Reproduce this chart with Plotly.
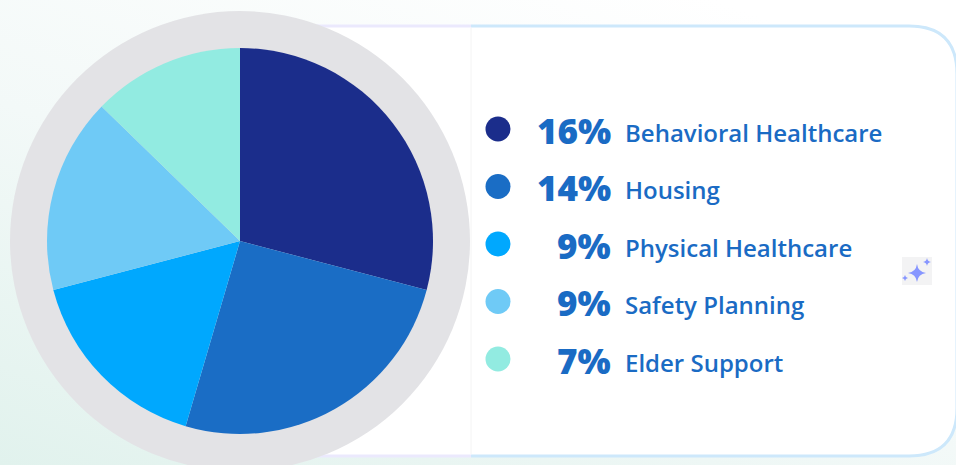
import base64
import plotly.graph_objects as go

# ---- data ----
categories = ["Behavioral Healthcare", "Housing", "Physical Healthcare", "Safety Planning", "Elder Support"]
values = [16, 14, 9, 9, 7]
colors = ["#1b2d8b", "#1a6dc5", "#00a8fe", "#6fcaf6", "#92ebe1"]

W, H = 956, 465
TEXT_BLUE = "#1a6bc4"

# ---- background gradient (decorative) ----
svg = f'''<svg xmlns="http://www.w3.org/2000/svg" width="{W}" height="{H}" viewBox="0 0 {W} {H}" preserveAspectRatio="none">
<defs><linearGradient id="g" x1="0" y1="1" x2="0.75" y2="0">
<stop offset="0" stop-color="#e1f2ed"/><stop offset="0.5" stop-color="#f3f9f8"/><stop offset="1" stop-color="#ffffff"/>
</linearGradient></defs><rect width="{W}" height="{H}" fill="url(#g)"/></svg>'''
bg_src = "data:image/svg+xml;base64," + base64.b64encode(svg.encode()).decode()

fig = go.Figure()

# pie
cx, cy, r = 240, 241, 193
fig.add_trace(go.Pie(
    labels=categories, values=values, sort=False, direction="clockwise", rotation=0,
    marker=dict(colors=colors, line=dict(width=0)), textinfo="none", hoverinfo="skip",
    showlegend=False,
    domain=dict(x=[(cx - r) / W, (cx + r) / W], y=[(H - cy - r) / H, (H - cy + r) / H]),
))

# legend dots
ys = [129 + i * 57.5 for i in range(len(categories))]
fig.add_trace(go.Scatter(
    x=[498] * len(categories), y=ys, mode="markers",
    marker=dict(size=25, color=colors, line=dict(width=0)),
    hoverinfo="skip", showlegend=False,
))

annotations = []
for cat, v, y in zip(categories, values, ys):
    annotations.append(dict(x=613, y=y + 1, xref="x", yref="y", text=f"{v}%", showarrow=False,
                            xanchor="right", yanchor="middle",
                            font=dict(family="Open Sans", size=35, color=TEXT_BLUE, weight=800)))
    annotations.append(dict(x=623, y=y + 3, xref="x", yref="y", text=cat, showarrow=False,
                            xanchor="left", yanchor="middle",
                            font=dict(family="Open Sans", size=24, color=TEXT_BLUE, weight=600)))

R = 48
card_fill = (f"M 471,26 L {957-R},26 Q 957,26 957,{26+R} L 957,{456-R} "
             f"Q 957,456 {957-R},456 L 471,456 Z")
card_border = (f"M 471,26 L {957-R},26 Q 957,26 957,{26+R} L 957,{456-R} "
               f"Q 957,456 {957-R},456 L 471,456")
shapes = [
    dict(type="rect", x0=240, x1=471, y0=26, y1=456, xref="x", yref="y", fillcolor="white",
         line=dict(width=0), layer="below"),
    dict(type="path", path=card_fill, xref="x", yref="y", fillcolor="white",
         line=dict(width=0), layer="below"),
    dict(type="path", path=card_border, xref="x", yref="y", fillcolor="rgba(0,0,0,0)",
         line=dict(color="#cde8fb", width=3), layer="below"),
    dict(type="line", x0=240, x1=471, y0=26, y1=26, xref="x", yref="y",
         line=dict(color="#ebe9fd", width=3), layer="below"),
    dict(type="line", x0=240, x1=471, y0=456, y1=456, xref="x", yref="y",
         line=dict(color="#ebe9fd", width=3), layer="below"),
    dict(type="line", x0=471, x1=471, y0=28, y1=454, xref="x", yref="y",
         line=dict(color="#f4f4f4", width=1), layer="below"),
    # gray ring behind pie
    dict(type="circle", x0=cx - 230, x1=cx + 230, y0=cy - 230, y1=cy + 230, xref="x", yref="y",
         fillcolor="#e3e3e6", line=dict(width=0), layer="below"),
    # sparkle icon
    dict(type="rect", x0=902, x1=932, y0=257, y1=285, xref="x", yref="y",
         fillcolor="#f3f3f4", line=dict(width=0), layer="below"),
]


def star(x, y, s, t):
    return (f"M {x},{y-s} Q {x+t},{y-t} {x+s},{y} Q {x+t},{y+t} {x},{y+s} "
            f"Q {x-t},{y+t} {x-s},{y} Q {x-t},{y-t} {x},{y-s} Z")


for (sx, sy, ss) in [(917, 273, 9), (927, 262, 4), (905, 278, 3)]:
    shapes.append(dict(type="path", path=star(sx, sy, ss, ss * 0.12), xref="x", yref="y",
                       fillcolor="#8796ff", line=dict(width=0), layer="above"))

fig.update_layout(
    width=W, height=H, margin=dict(l=0, r=0, t=0, b=0),
    paper_bgcolor="white", plot_bgcolor="rgba(0,0,0,0)",
    xaxis=dict(range=[0, W], visible=False, fixedrange=True, domain=[0, 1]),
    yaxis=dict(range=[H, 0], visible=False, fixedrange=True, domain=[0, 1]),
    images=[dict(source=bg_src, xref="paper", yref="paper", x=0, y=1, sizex=1, sizey=1,
                 sizing="stretch", xanchor="left", yanchor="top", layer="below")],
    shapes=shapes, annotations=annotations, showlegend=False,
)

fig.write_html("out.html", config={"displayModeBar": False})
